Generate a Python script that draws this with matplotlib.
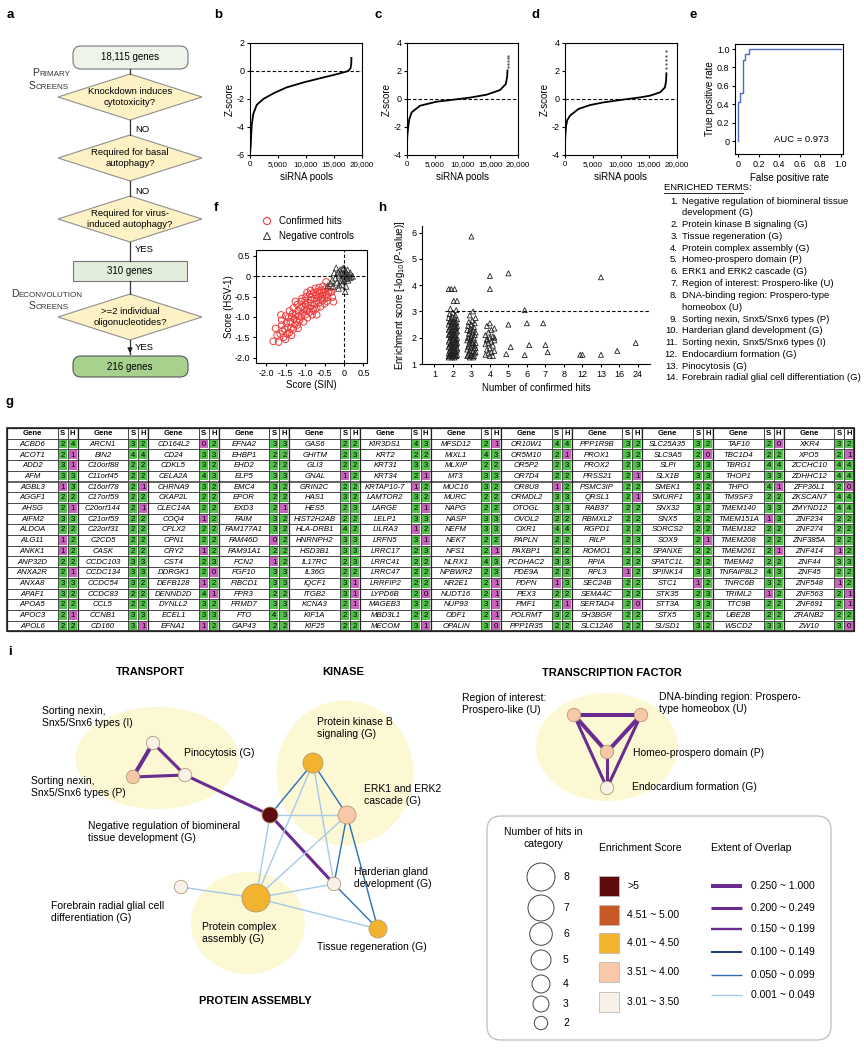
import matplotlib
matplotlib.use("Agg")
import matplotlib.pyplot as plt
import numpy as np
from matplotlib.patches import FancyBboxPatch, Polygon, Rectangle, Ellipse, Circle

plt.rcParams['font.family'] = ['Liberation Sans', 'DejaVu Sans']
plt.rcParams['axes.unicode_minus'] = False

# ---------------- data ----------------
# b, c, d: sorted z-scores (rank, z)
b_rank = [0, 130, 300, 590, 1200, 2375, 4160, 6550, 9520, 12500, 15480, 17550, 17950, 18080, 18115]
b_z = [-5.9, -5.3, -3.9, -3.06, -2.42, -2.0, -1.6, -1.17, -0.82, -0.52, -0.23, 0.0, 0.2, 0.5, 1.0]
c_rank = [0, 60, 240, 420, 840, 2340, 5350, 8340, 11350, 14360, 16760, 17800, 18050, 18115]
c_z = [-3.2, -2.6, -1.9, -1.43, -0.95, -0.48, -0.19, -0.05, 0.1, 0.31, 0.64, 1.07, 1.6, 2.1]
c_tail_z = [2.3, 2.5, 2.7, 2.9, 3.1]
d_rank = [0, 80, 200, 410, 900, 2400, 4500, 6900, 9900, 13500, 15200, 17000, 17850, 18050, 18115]
d_z = [-3.1, -2.5, -1.9, -1.5, -1.19, -0.71, -0.43, -0.24, -0.07, 0.12, 0.24, 0.48, 0.83, 1.3, 1.9]
d_tail_z = [2.2, 2.5, 2.8, 3.1, 3.4]

# e: ROC curve
roc_fpr = [0, 0, 0.023, 0.023, 0.05, 0.05, 0.065, 0.065, 0.104, 0.104, 1.0]
roc_tpr = [0, 0.42, 0.42, 0.52, 0.52, 0.88, 0.88, 0.95, 0.95, 1.0, 1.0]

# f: confirmed hits (SIN, HSV-1)
hits = [(-1.82, -1.6), (-1.76, -1.28), (-1.72, -1.45), (-1.68, -1.62), (-1.62, -0.95), (-1.6, -1.2),
        (-1.58, -1.35), (-1.55, -1.5), (-1.6, -1.08), (-1.5, -0.98), (-1.48, -1.15), (-1.52, -1.3),
        (-1.46, -1.42), (-1.44, -1.25), (-1.5, -1.55), (-1.4, -0.85), (-1.42, -1.02), (-1.38, -1.12),
        (-1.36, -1.28), (-1.4, -1.38), (-1.34, -1.0), (-1.3, -0.78), (-1.32, -0.92), (-1.28, -1.05),
        (-1.26, -1.18), (-1.3, -1.3), (-1.24, -0.95), (-1.22, -1.1), (-1.2, -0.7), (-1.18, -0.85),
        (-1.16, -0.98), (-1.2, -1.2), (-1.14, -1.08), (-1.12, -0.78), (-1.18, -1.28), (-1.1, -0.62),
        (-1.08, -0.75), (-1.06, -0.9), (-1.1, -1.0), (-1.04, -1.12), (-1.08, -0.55), (-1.02, -0.82),
        (-1.0, -0.6), (-0.98, -0.7), (-0.96, -0.85), (-1.0, -0.95), (-0.94, -1.02), (-0.92, -0.65),
        (-0.98, -0.5), (-0.9, -0.78), (-0.88, -0.45), (-0.86, -0.58), (-0.85, -0.72), (-0.88, -0.88),
        (-0.82, -0.95), (-0.84, -0.52), (-0.8, -0.8), (-0.86, -0.35), (-0.78, -0.4), (-0.76, -0.55),
        (-0.75, -0.68), (-0.78, -0.85), (-0.72, -0.48), (-0.7, -0.6), (-0.74, -0.3), (-0.7, -0.78),
        (-0.68, -0.38), (-0.66, -0.5), (-0.65, -0.66), (-0.62, -0.42), (-0.6, -0.56), (-0.64, -0.28),
        (-0.6, -0.75), (-0.58, -0.35), (-0.56, -0.48), (-0.55, -0.6), (-0.52, -0.4), (-0.5, -0.55),
        (-0.54, -0.25), (-0.5, -0.68), (-0.46, -0.14), (-0.48, -0.32), (-0.45, -0.45), (-0.42, -0.52),
        (-0.4, -0.38), (-0.44, -0.62), (-0.36, -0.4), (-0.32, -0.38), (-0.3, -0.52), (-0.27, -0.63),
        (-0.34, -0.28), (-1.64, -1.42), (-1.35, -1.45), (-0.95, -0.4), (-1.25, -0.62), (-0.7, -0.95)]
# f: negative controls
negs = [(-0.42, -0.24), (-0.35, -0.18), (-0.3, -0.1), (-0.28, -0.25), (-0.22, -0.05), (-0.2, 0.2),
        (-0.18, -0.15), (-0.15, 0.1), (-0.14, -0.3), (-0.12, 0.02), (-0.1, 0.15), (-0.08, -0.1),
        (-0.06, 0.05), (-0.05, -0.2), (-0.04, 0.18), (-0.02, -0.05), (0.0, 0.08), (0.0, -0.12),
        (0.02, 0.0), (0.03, -0.38), (0.04, 0.12), (0.05, -0.25), (0.06, -0.06), (0.08, 0.05),
        (0.09, 0.15), (0.1, -0.1), (0.12, 0.02), (0.14, -0.04), (0.16, 0.08), (0.18, -0.02),
        (0.22, 0.0), (-0.25, 0.08), (-0.12, -0.22), (0.0, 0.2)]

# h: enrichment scores grouped by number of confirmed hits
h_cats = ['1', '2', '3', '4', '5', '6', '7', '8', '12', '13', '16', '24']
h_scores = {
    '2': [3.85, 3.85, 3.85, 3.4, 3.4, 3.1, 3.05, 2.95, 2.9, 2.85, 2.8, 2.75, 2.75, 2.7, 2.7, 2.65,
          2.65, 2.6, 2.6, 2.6, 2.55, 2.55, 2.5, 2.5, 2.5, 2.45, 2.45, 2.4, 2.4, 2.4, 2.35, 2.35, 2.3,
          2.3, 2.3, 2.25, 2.25, 2.2, 2.2, 2.2, 2.15, 2.15, 2.1, 2.1, 2.1, 2.05, 2.05, 2.0, 2.0, 2.0,
          1.95, 1.95, 1.9, 1.9, 1.9, 1.85, 1.85, 1.8, 1.8, 1.8, 1.75, 1.75, 1.7, 1.7, 1.7, 1.65, 1.65,
          1.6, 1.6, 1.6, 1.55, 1.55, 1.5, 1.5, 1.5, 1.45, 1.45, 1.4, 1.4, 1.4, 1.35, 1.35, 1.35, 1.3,
          1.3, 1.3, 1.3, 1.25, 1.25, 1.25, 1.45, 1.55, 1.65, 1.75, 1.85, 2.05, 2.15, 2.35, 1.35, 1.3],
    '3': [5.85, 3.0, 2.85, 2.75, 2.65, 2.6, 2.55, 2.5, 2.45, 2.4, 2.35, 2.3, 2.3, 2.25, 2.2, 2.2,
          2.15, 2.1, 2.05, 2.0, 2.0, 1.95, 1.9, 1.9, 1.85, 1.8, 1.8, 1.75, 1.7, 1.7, 1.65, 1.6, 1.6,
          1.55, 1.5, 1.5, 1.45, 1.45, 1.4, 1.4, 1.35, 1.35, 1.3, 1.3, 1.3, 1.25, 1.25, 1.6, 1.8, 2.0],
    '4': [4.35, 3.85, 2.55, 2.45, 2.35, 2.3, 2.2, 2.1, 2.05, 2.0, 1.95, 1.9, 1.85, 1.8, 1.75, 1.7,
          1.6, 1.55, 1.5, 1.45, 1.4, 1.35, 1.3, 1.3, 1.9, 2.0],
    '5': [4.45, 2.5, 1.65, 1.38],
    '6': [3.05, 2.55, 1.72, 1.34],
    '7': [2.55, 1.72, 1.45],
    '12': [1.35, 1.35],
    '13': [4.3, 1.35],
    '16': [1.5],
    '24': [1.8],
}
fdr_cut = 3.0

enriched_terms = [
    "Negative regulation of biomineral tissue\ndevelopment (G)",
    "Protein kinase B signaling (G)",
    "Tissue regeneration (G)",
    "Protein complex assembly (G)",
    "Homeo-prospero domain (P)",
    "ERK1 and ERK2 cascade (G)",
    "Region of interest: Prospero-like (U)",
    "DNA-binding region: Prospero-type\nhomeobox (U)",
    "Sorting nexin, Snx5/Snx6 types (P)",
    "Harderian gland development (G)",
    "Sorting nexin, Snx5/Snx6 types (I)",
    "Endocardium formation (G)",
    "Pinocytosis (G)",
    "Forebrain radial glial cell differentiation (G)",
]

# g: gene table (gene, S, H), 12 column groups of 18 rows
g_groups = [
    [("ACBD6", 2, 4), ("ACOT1", 2, 1), ("ADD2", 3, 1), ("AFM", 3, 3), ("AGBL3", 1, 3), ("AGGF1", 2, 2),
     ("AHSG", 2, 1), ("AIFM2", 3, 3), ("ALDOA", 2, 2), ("ALG11", 1, 2), ("ANKK1", 1, 2), ("ANP32D", 2, 2),
     ("ANXA2R", 2, 1), ("ANXA8", 3, 3), ("APAF1", 3, 2), ("APOA5", 2, 2), ("APOC3", 2, 1), ("APOL6", 2, 2)],
    [("ARCN1", 3, 2), ("BIN2", 4, 4), ("C10orf88", 2, 2), ("C11orf45", 2, 2), ("C16orf78", 2, 1),
     ("C17orf59", 2, 2), ("C20orf144", 2, 1), ("C21orf59", 2, 2), ("C22orf31", 2, 2), ("C2CD5", 2, 2),
     ("CASK", 2, 2), ("CCDC103", 3, 3), ("CCDC134", 3, 3), ("CCDC54", 3, 2), ("CCDC83", 2, 2),
     ("CCL5", 2, 2), ("CCNB1", 3, 3), ("CD160", 3, 1)],
    [("CD164L2", 0, 2), ("CD24", 3, 3), ("CDKL5", 3, 2), ("CELA2A", 4, 3), ("CHRNA9", 3, 2),
     ("CKAP2L", 2, 2), ("CLEC14A", 2, 2), ("COQ4", 1, 2), ("CPLX2", 2, 2), ("CPN1", 2, 2), ("CRY2", 1, 2),
     ("CST4", 2, 3), ("DDRGK1", 2, 0), ("DEFB128", 1, 2), ("DENND2D", 4, 1), ("DYNLL2", 3, 2),
     ("ECEL1", 3, 3), ("EFNA1", 1, 2)],
    [("EFNA2", 3, 3), ("EHBP1", 2, 2), ("EHD2", 2, 2), ("ELP5", 3, 3), ("EMC4", 3, 2), ("EPOR", 2, 2),
     ("EXD3", 2, 1), ("FAIM", 3, 2), ("FAM177A1", 3, 2), ("FAM46D", 0, 2), ("FAM91A1", 2, 2),
     ("FCN2", 1, 2), ("FGF10", 3, 3), ("FIBCD1", 3, 3), ("FPR3", 2, 2), ("FRMD7", 3, 3), ("FTO", 4, 3),
     ("GAP43", 2, 2)],
    [("GAS6", 2, 2), ("GHITM", 2, 3), ("GLI3", 2, 2), ("GNAL", 1, 2), ("GRIN2C", 2, 2), ("HAS1", 3, 2),
     ("HES5", 2, 3), ("HIST2H2AB", 2, 2), ("HLA-DRB1", 4, 2), ("HNRNPH2", 3, 3), ("HSD3B1", 3, 3),
     ("IL17RC", 2, 3), ("IL36G", 2, 2), ("IQCF1", 3, 1), ("ITGB2", 3, 1), ("KCNA3", 2, 1),
     ("KIF1A", 2, 3), ("KIF25", 2, 2)],
    [("KIR3DS1", 4, 3), ("KRT2", 2, 2), ("KRT31", 3, 3), ("KRT34", 2, 1), ("KRTAP10-7", 1, 2),
     ("LAMTOR2", 3, 2), ("LARGE", 2, 1), ("LELP1", 3, 3), ("LILRA3", 1, 2), ("LRFN5", 3, 1),
     ("LRRC17", 2, 3), ("LRRC41", 2, 2), ("LRRC47", 2, 2), ("LRRFIP2", 2, 2), ("LYPD6B", 2, 0),
     ("MAGEB3", 3, 2), ("MBD3L1", 2, 2), ("MECOM", 3, 1)],
    [("MFSD12", 2, 1), ("MIXL1", 4, 3), ("MLXIP", 2, 2), ("MT3", 3, 3), ("MUC16", 3, 2), ("MURC", 2, 2),
     ("NAPG", 2, 2), ("NASP", 3, 3), ("NEFM", 3, 3), ("NEK7", 2, 2), ("NFS1", 2, 1), ("NLRX1", 4, 3),
     ("NPBWR2", 2, 3), ("NR2E1", 2, 1), ("NUDT16", 2, 1), ("NUP93", 3, 1), ("ODF1", 2, 1),
     ("OPALIN", 3, 0)],
    [("OR10W1", 4, 4), ("OR5M10", 2, 1), ("OR5P2", 2, 3), ("OR7D4", 2, 2), ("OR8U8", 1, 2),
     ("ORMDL2", 3, 3), ("OTOGL", 3, 3), ("OVOL2", 2, 2), ("OXR1", 4, 4), ("PAPLN", 2, 2),
     ("PAXBP1", 2, 2), ("PCDHAC2", 3, 3), ("PDE9A", 2, 2), ("PDPN", 1, 3), ("PEX3", 2, 2), ("PMF1", 2, 1),
     ("POLRMT", 3, 2), ("PPP1R35", 2, 2)],
    [("PPP1R9B", 3, 2), ("PROX1", 3, 2), ("PROX2", 2, 3), ("PRSS21", 2, 1), ("PSMC3IP", 2, 2),
     ("QRSL1", 2, 1), ("RAB37", 2, 2), ("RBMXL2", 2, 2), ("RGPD1", 2, 2), ("RILP", 2, 3), ("ROMO1", 2, 2),
     ("RPIA", 2, 2), ("RPL3", 1, 2), ("SEC24B", 2, 2), ("SEMA4C", 2, 2), ("SERTAD4", 2, 0),
     ("SH3BGR", 2, 2), ("SLC12A6", 2, 2)],
    [("SLC25A35", 3, 2), ("SLC9A5", 2, 0), ("SLPI", 3, 3), ("SLX1B", 3, 3), ("SMEK1", 2, 2),
     ("SMURF1", 3, 3), ("SNX32", 3, 2), ("SNX5", 2, 2), ("SORCS2", 2, 2), ("SOX9", 2, 1),
     ("SPANXE", 2, 2), ("SPATC1L", 2, 2), ("SPINK14", 3, 3), ("STC1", 1, 2), ("STK35", 2, 3),
     ("STT3A", 3, 3), ("STX5", 3, 2), ("SUSD1", 3, 2)],
    [("TAF10", 2, 0), ("TBC1D4", 2, 2), ("TBRG1", 4, 4), ("THOP1", 3, 3), ("THPO", 4, 1), ("TM9SF3", 2, 2),
     ("TMEM140", 3, 3), ("TMEM151A", 1, 3), ("TMEM182", 2, 2), ("TMEM208", 2, 2), ("TMEM261", 2, 1),
     ("TMEM42", 2, 2), ("TNFAIP8L2", 4, 3), ("TNRC6B", 3, 2), ("TRIML2", 1, 2), ("TTC9B", 2, 2),
     ("UBE2B", 2, 2), ("WSCD2", 3, 3)],
    [("XKR4", 3, 2), ("XPO5", 2, 1), ("ZCCHC10", 4, 4), ("ZDHHC12", 4, 4), ("ZFP36L1", 2, 0),
     ("ZKSCAN7", 4, 4), ("ZMYND12", 4, 4), ("ZNF234", 2, 2), ("ZNF274", 2, 2), ("ZNF385A", 2, 2),
     ("ZNF414", 1, 2), ("ZNF44", 3, 3), ("ZNF45", 2, 2), ("ZNF548", 1, 2), ("ZNF563", 2, 1),
     ("ZNF691", 2, 1), ("ZRANB2", 2, 2), ("ZW10", 3, 0)],
]

# i: network (term -> hits, enrichment score)
net_hits = {"snxI": 2, "snxP": 2, "pino": 2, "negreg": 3, "pkb": 5, "erk": 4, "hard": 2,
            "pca": 8, "tissue": 4, "fore": 2, "roi": 2, "dna": 2, "homeo": 2, "endo": 2}
net_score = {"snxI": 3.3, "snxP": 3.6, "pino": 3.2, "negreg": 5.85, "pkb": 4.45, "erk": 3.85,
             "hard": 3.4, "pca": 4.3, "tissue": 4.35, "fore": 3.1, "roi": 3.85, "dna": 3.85,
             "homeo": 3.9, "endo": 3.05}
net_edges = [("snxI", "snxP", 0.30), ("snxI", "pino", 0.22), ("snxP", "pino", 0.22),
             ("pino", "negreg", 0.22), ("negreg", "hard", 0.22),
             ("negreg", "pkb", 0.07), ("negreg", "erk", 0.02), ("negreg", "pca", 0.02),
             ("pkb", "erk", 0.07), ("pkb", "pca", 0.02), ("pkb", "hard", 0.02), ("erk", "pca", 0.02),
             ("erk", "hard", 0.07), ("erk", "tissue", 0.07), ("hard", "tissue", 0.07),
             ("hard", "pca", 0.02), ("pca", "tissue", 0.02), ("pca", "fore", 0.02),
             ("roi", "dna", 0.30), ("roi", "homeo", 0.30), ("dna", "homeo", 0.30),
             ("roi", "endo", 0.22), ("dna", "endo", 0.22), ("homeo", "endo", 0.22)]

score_bins = [">5", "4.51 ~ 5.00", "4.01 ~ 4.50", "3.51 ~ 4.00", "3.01 ~ 3.50"]
overlap_bins = ["0.250 ~ 1.000", "0.200 ~ 0.249", "0.150 ~ 0.199", "0.100 ~ 0.149",
                "0.050 ~ 0.099", "0.001 ~ 0.049"]
hit_sizes = [8, 7, 6, 5, 4, 3, 2]

# ---------------- figure ----------------
W, H = 864, 1050
fig = plt.figure(figsize=(8.64, 10.5), dpi=100)
bg = fig.add_axes([0, 0, 1, 1])
bg.set_xlim(0, W)
bg.set_ylim(H, 0)
bg.axis('off')


def px_axes(x0, y0, x1, y1):
    return fig.add_axes([x0 / W, 1 - y1 / H, (x1 - x0) / W, (y1 - y0) / H])


def style(ax, box=True):
    for s in ax.spines.values():
        s.set_linewidth(0.8)
    if not box:
        ax.spines['top'].set_visible(False)
        ax.spines['right'].set_visible(False)
    ax.tick_params(labelsize=6.5, length=2.5, width=0.8, pad=1.5)


for lab, x, y in [('a', 10, 15), ('b', 218, 15), ('c', 378, 15), ('d', 535, 15), ('e', 693, 15),
                  ('f', 216, 208), ('h', 382, 208), ('g', 10, 402), ('i', 10, 652)]:
    bg.text(x, y, lab, fontsize=9.5, fontweight='bold', ha='center', va='center')

# ---- a: flowchart ----
fx = 130


def diamond(cy, txt):
    bg.add_patch(Polygon([[fx - 72, cy], [fx, cy - 23], [fx + 72, cy], [fx, cy + 23]], closed=True,
                         fc='#fdf1c6', ec='#8f8f8f', lw=0.8))
    bg.text(fx, cy, txt, ha='center', va='center', fontsize=6.8, linespacing=1.15)


def smallcaps(x, y, word):
    r = fig.canvas.get_renderer()
    t = bg.text(x, y, word[0], fontsize=7.5, va='baseline', color='#333333')
    w = t.get_window_extent(r).width
    bg.text(x + w, y, word[1:], fontsize=5.8, va='baseline', color='#333333')


for y0, y1 in [(69, 74), (120, 135), (181, 196), (242, 261), (281, 294), (340, 354)]:
    bg.plot([fx, fx], [y0, y1], color='#333333', lw=0.9)
bg.annotate('', xy=(fx, 356), xytext=(fx, 345),
            arrowprops=dict(arrowstyle='-|>', color='#222222', lw=0.9, mutation_scale=7))
bg.add_patch(FancyBboxPatch((73, 46), 115, 23, boxstyle='round,pad=0,rounding_size=8',
                            fc='#eef4ea', ec='#777777', lw=0.8))
bg.text(fx, 57.5, '18,115 genes', ha='center', va='center', fontsize=7)
diamond(97, 'Knockdown induces\ncytotoxicity?')
diamond(158, 'Required for basal\nautophagy?')
diamond(219, 'Required for virus-\ninduced autophagy?')
bg.add_patch(Rectangle((73, 261), 114, 20, fc='#e2eedb', ec='#777777', lw=0.8))
bg.text(fx, 271, '310 genes', ha='center', va='center', fontsize=7)
diamond(317, '>=2 individual\noligonucleotides?')
bg.add_patch(FancyBboxPatch((73, 356), 115, 21, boxstyle='round,pad=0,rounding_size=8',
                            fc='#a9d18e', ec='#555555', lw=0.8))
bg.text(fx, 366.5, '216 genes', ha='center', va='center', fontsize=7)
for y, t in [(130, 'NO'), (191, 'NO'), (250, 'YES'), (348, 'YES')]:
    bg.text(fx + 5, y, t, fontsize=6.8, va='center')
smallcaps(32, 76.5, 'PRIMARY')
smallcaps(29, 89, 'SCREENS')
smallcaps(11, 297, 'DECONVOLUTION')
smallcaps(29, 309, 'SCREENS')

# ---- b, c, d: z-score curves ----
curve_panels = [((250, 43, 362, 155), b_rank, b_z, None, (-6, 2), [-6, -4, -2, 0, 2]),
                ((407, 43, 518, 155), c_rank, c_z, c_tail_z, (-4, 4), [-4, -2, 0, 2, 4]),
                ((565, 43, 677, 155), d_rank, d_z, d_tail_z, (-4, 4), [-4, -2, 0, 2, 4])]
for box, rk, zz, tail, yl, yt in curve_panels:
    ax = px_axes(*box)
    ax.plot(rk, zz, color='black', lw=1.3, solid_capstyle='butt')
    if tail:
        ax.plot([rk[-1]] * len(tail), tail, ls='none', marker='.', ms=1.3, color='#555555')
    ax.axhline(0, color='black', ls=(0, (3, 2)), lw=0.8)
    ax.set_xlim(0, 20000)
    ax.set_ylim(*yl)
    ax.set_yticks(yt)
    ax.set_xticks([0, 5000, 10000, 15000, 20000])
    ax.set_xticklabels(['0', '5,000', '10,000', '15,000', '20,000'], fontsize=5.8)
    ax.set_xlabel('siRNA pools', fontsize=7, labelpad=3)
    ax.set_ylabel('Z-score', fontsize=7, labelpad=1)
    style(ax)
    ax.tick_params(axis='x', labelsize=5.8)

# ---- e: ROC ----
ax = px_axes(735, 44, 843, 154)
ax.plot(roc_fpr, roc_tpr, color='#4a6cc4', lw=1.0)
ax.set_xlim(-0.03, 1.02)
ax.set_ylim(-0.14, 1.055)
ax.set_xticks([0, 0.2, 0.4, 0.6, 0.8, 1.0])
ax.set_xticklabels(['0', '0.2', '0.4', '0.6', '0.8', '1.0'])
ax.set_yticks([0, 0.2, 0.4, 0.6, 0.8, 1.0])
ax.set_yticklabels(['0', '0.2', '0.4', '0.6', '0.8', '1.0'])
ax.set_xlabel('False positive rate', fontsize=7, labelpad=3)
ax.set_ylabel('True positive rate', fontsize=7, labelpad=1)
ax.text(0.62, 0.02, 'AUC = 0.973', fontsize=6.8, ha='center', va='center')
style(ax)

# ---- f: scatter ----
ax = px_axes(256, 250, 367, 363)
hx, hy = zip(*hits)
nx, ny = zip(*negs)
ax.scatter(hx, hy, s=22, facecolors='none', edgecolors='#ee3b3b', linewidths=0.7)
ax.scatter(nx, ny, s=18, marker='^', facecolors='none', edgecolors='#333333', linewidths=0.6)
ax.axhline(0, color='black', ls=(0, (3, 2)), lw=0.8)
ax.axvline(0, color='black', ls=(0, (3, 2)), lw=0.8)
ax.set_xlim(-2.26, 0.59)
ax.set_ylim(-2.13, 0.64)
tk = [-2.0, -1.5, -1.0, -0.5, 0, 0.5]
tl = ['-2.0', '-1.5', '-1.0', '-0.5', '0', '0.5']
ax.set_xticks(tk)
ax.set_xticklabels(tl)
ax.set_yticks(tk)
ax.set_yticklabels(tl)
ax.set_xlabel('Score (SIN)', fontsize=7, labelpad=2)
ax.set_ylabel('Score (HSV-1)', fontsize=7, labelpad=1)
style(ax)
bg.scatter([267], [221], s=26, facecolors='none', edgecolors='#ee3b3b', linewidths=0.8)
bg.scatter([267], [236], s=26, marker='^', facecolors='none', edgecolors='#333333', linewidths=0.7)
bg.text(279, 221, 'Confirmed hits', fontsize=7, va='center')
bg.text(279, 236, 'Negative controls', fontsize=7, va='center')

# ---- h: enrichment ----
ax = px_axes(422, 226, 650, 364)
for i, c in enumerate(h_cats):
    vals = h_scores.get(c, [])
    pos = i + 1
    xs = []
    for k, v in enumerate(vals):
        if len(vals) > 40:
            off = ((k * 7) % 11 - 5) * 0.045
        elif len(vals) > 6:
            off = ((k * 5) % 7 - 3) * 0.08
        else:
            off = ((k % 3) - 1) * 0.12
        if v > 3.6 and len(vals) < 60:
            off = 0
        xs.append(pos + off)
    ax.scatter(xs, vals, s=13, marker='^', facecolors='none', edgecolors='#222222', linewidths=0.6)
ax.axhline(fdr_cut, xmin=0.1, color='black', ls=(0, (3, 2)), lw=0.8)
ax.set_xlim(0.33, 12.65)
ax.set_ylim(1, 6.25)
ax.set_xticks(range(1, 13))
ax.set_xticklabels(h_cats)
ax.set_yticks([1, 2, 3, 4, 5, 6])
ax.set_xlabel('Number of confirmed hits', fontsize=7, labelpad=3)
ax.set_ylabel('Enrichment score [-log$_{10}$($P$-value)]', fontsize=7, labelpad=3)
style(ax, box=False)
for t, x, y in [('1', 478, 235), ('2', 514, 270), ('3', 495, 273), ('6', 495, 287), ('4', 608, 275),
                ('9', 446, 278), ('7', 456, 278), ('8', 438, 287), ('5', 466, 284), ('11', 438, 298),
                ('10', 467, 298), ('13/14', 432, 309), ('12', 463, 306)]:
    bg.text(x, y, t, fontsize=6.8, ha='center', va='center')
bg.text(635, 298, 'FDR < 0.05', fontsize=6.8, ha='right', va='center')

# ---- enriched terms ----
bg.text(664, 188, 'ENRICHED TERMS:', fontsize=6.8, va='center')
bg.plot([664, 743], [193, 193], color='black', lw=0.6)
line = 0
for k, term in enumerate(enriched_terms):
    for j, part in enumerate(term.split('\n')):
        y = 201 + line * 11.8
        if j == 0:
            bg.text(678, y, f'{k + 1}.', fontsize=6.8, va='center', ha='right')
        bg.text(682, y, part, fontsize=6.8, va='center')
        line += 1

# ---- g: table ----
gx0, gy0, rh = 7, 428, 10.7
gw, sw = 50.6, 10.0
green, magenta = '#52c24a', '#c864bd'
for gi, grp in enumerate(g_groups):
    x0 = gx0 + gi * (gw + 2 * sw)
    rows = [("Gene", "S", "H")] + grp
    for ri, (gname, s, h) in enumerate(rows):
        y = gy0 + ri * rh
        bg.add_patch(Rectangle((x0, y), gw, rh, fc='white', ec='#222222', lw=0.5))
        head = ri == 0
        bg.text(x0 + gw / 2, y + rh / 2 + 0.3, gname, fontsize=5.6, ha='center', va='center',
                style='normal' if head else 'italic', fontweight='bold' if head else 'normal')
        for j, v in enumerate([s, h]):
            cx = x0 + gw + j * sw
            bg.add_patch(Rectangle((cx, y), sw, rh, fc='white', ec='#222222', lw=0.5))
            if head:
                bg.text(cx + sw / 2, y + rh / 2 + 0.3, v, fontsize=5.6, ha='center', va='center',
                        fontweight='bold')
            else:
                bg.add_patch(Rectangle((cx + 1, y + 1), sw - 2, rh - 2,
                                       fc=green if v >= 2 else magenta, ec='none'))
                bg.text(cx + sw / 2, y + rh / 2 + 0.3, str(v), fontsize=5.6, ha='center', va='center')
    bg.add_patch(Rectangle((x0, gy0), gw + 2 * sw, rh * 19, fc='none', ec='#222222', lw=0.9))
bg.add_patch(Rectangle((gx0, gy0), 12 * (gw + 2 * sw), rh * 19, fc='none', ec='#222222', lw=1.2))

# ---- i: network ----
node_pos = {"snxI": (153, 743), "snxP": (133, 777), "pino": (185, 775), "negreg": (270, 815),
            "pkb": (313, 763), "erk": (347, 815), "hard": (334, 884), "pca": (256, 898),
            "tissue": (378, 929), "fore": (181, 887), "roi": (574, 715), "dna": (641, 715),
            "homeo": (607, 752), "endo": (607, 788)}
for cx, cy, w, h in [(157, 758, 163, 102), (345, 773, 137, 145), (248, 923, 114, 102),
                     (607, 747, 142, 108)]:
    bg.add_patch(Ellipse((cx, cy), w, h, fc='#fbf8d3', ec='none', zorder=1))
for t, x, y in [('TRANSPORT', 150, 672), ('KINASE', 343, 672), ('TRANSCRIPTION FACTOR', 612, 673),
                ('PROTEIN ASSEMBLY', 255, 1001)]:
    bg.text(x, y, t, fontsize=8, fontweight='bold', ha='center', va='center')


def overlap_style(v):
    if v >= 0.25:
        return '#6a2c91', 2.9
    if v >= 0.2:
        return '#6a2c91', 2.2
    if v >= 0.15:
        return '#6a2c91', 1.7
    if v >= 0.1:
        return '#1b3a6b', 1.4
    if v >= 0.05:
        return '#2e6db4', 1.0
    return '#a8c8ea', 1.0


def score_color(v):
    if v > 5:
        return '#5e0c0c'
    if v > 4.5:
        return '#c85a28'
    if v > 4.0:
        return '#f2b32f'
    if v > 3.5:
        return '#f8c8a8'
    return '#f8f1e7'


for a, b, v in net_edges:
    col, lw = overlap_style(v)
    (x1, y1), (x2, y2) = node_pos[a], node_pos[b]
    bg.plot([x1, x2], [y1, y2], color=col, lw=lw, zorder=2, solid_capstyle='round')
hit_r = {2: 6.7, 3: 8, 4: 9, 5: 10, 6: 11.3, 7: 13, 8: 14}
for n, (x, y) in node_pos.items():
    bg.add_patch(Circle((x, y), hit_r[net_hits[n]], fc=score_color(net_score[n]), ec='#b39b7a',
                        lw=0.6, zorder=3))
node_labels = [("Sorting nexin,\nSnx5/Snx6 types (I)", 42, 706), ("Pinocytosis (G)", 184, 748),
               ("Sorting nexin,\nSnx5/Snx6 types (P)", 31, 776),
               ("Negative regulation of biomineral\ntissue development (G)", 88, 821),
               ("Protein kinase B\nsignaling (G)", 317, 717), ("ERK1 and ERK2\ncascade (G)", 364, 784),
               ("Harderian gland\ndevelopment (G)", 354, 867),
               ("Forebrain radial glial cell\ndifferentiation (G)", 51, 901),
               ("Protein complex\nassembly (G)", 202, 922), ("Tissue regeneration (G)", 317, 942),
               ("Region of interest:\nProspero-like (U)", 462, 693),
               ("DNA-binding region: Prospero-\ntype homeobox (U)", 659, 692),
               ("Homeo-prospero domain (P)", 633, 748), ("Endocardium formation (G)", 632, 782)]
for t, x, y in node_labels:
    bg.text(x, y, t, fontsize=7.5, va='top', ha='left', linespacing=1.25, zorder=4)

# ---- i: legend ----
bg.add_patch(FancyBboxPatch((487, 816), 344, 224, boxstyle='round,pad=0,rounding_size=14',
                            fc='white', ec='#bdbdbd', lw=0.9))
bg.text(543, 838, 'Number of hits in\ncategory', fontsize=7.5, ha='center', va='center',
        linespacing=1.25)
for n, y in zip(hit_sizes, [877, 908, 934, 960, 984, 1004, 1023]):
    bg.add_patch(Circle((541, y), hit_r[n], fc='white', ec='#444444', lw=0.7))
    bg.text(563, y, str(n), fontsize=7.5, va='center')
bg.text(640, 848, 'Enrichment Score', fontsize=7.5, ha='center', va='center')
for lab, v, y in zip(score_bins, [5.5, 4.8, 4.3, 3.8, 3.2], [886, 915, 943, 972, 1002]):
    bg.add_patch(Rectangle((599, y - 10), 20, 20, fc=score_color(v), ec='#bbbbbb', lw=0.6))
    bg.text(627, y, lab, fontsize=7.5, va='center')
bg.text(751, 848, 'Extent of Overlap', fontsize=7.5, ha='center', va='center')
for lab, v, y in zip(overlap_bins, [0.3, 0.22, 0.17, 0.12, 0.07, 0.02], [886, 908, 929, 952, 975, 995]):
    col, lw = overlap_style(v)
    bg.plot([711, 742], [y, y], color=col, lw=lw, solid_capstyle='butt')
    bg.text(751, y, lab, fontsize=7.5, va='center')

fig.savefig('out.png', dpi=100)
